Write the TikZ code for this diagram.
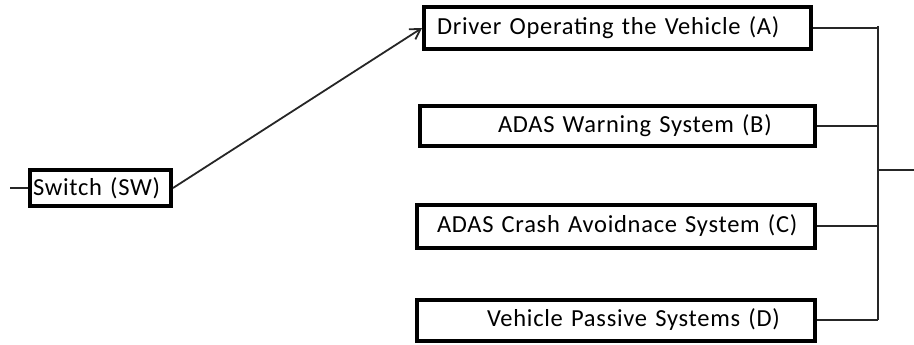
\documentclass[tikz,border=0pt]{standalone}
\usepackage{fontspec}
\setmainfont[LetterSpace=3,WordSpace=0.85]{Carlito}
\usetikzlibrary{arrows.meta}
\begin{document}
\begin{tikzpicture}[x=1pt,y=-1pt,
  box/.style={draw=black,line width=4pt,inner xsep=0pt,inner ysep=0pt,align=left,
    font=\fontsize{24.5}{28}\selectfont,anchor=center},
  wire/.style={draw=black!85,line width=1.8pt}]
\useasboundingbox (0,0) rectangle (914,345);
\node[box,minimum width=141,minimum height=36,text width=141] (sw) at (100.5,188) {\hspace*{3pt}Switch (SW)};
\node[box,minimum width=387,minimum height=42,text width=387] (A) at (617.5,28) {\hspace*{13pt}Driver Operating the Vehicle (A)};
\node[box,minimum width=395,minimum height=40,text width=395] (B) at (617.5,126) {\hspace*{78pt}ADAS Warning System (B)};
\node[box,minimum width=398,minimum height=43,text width=398] (C) at (616,226) {\hspace*{20pt}ADAS Crash Avoidnace System (C)};
\node[box,minimum width=398,minimum height=41,text width=398] (D) at (616,320) {\hspace*{70pt}Vehicle Passive Systems (D)};
\coordinate (in) at (10,188);
\coordinate (jt) at (878,26);
\coordinate (jb) at (878,320);
\coordinate (out) at (914,170);
\draw[wire] (in) -- (sw.west);
\draw[wire,-{Straight Barb[length=10pt,width=12pt]}] (sw.east) -- (A.west);
\draw[wire] (A.east) -- (A.east -| jt);
\draw[wire] (B.east) -- (B.east -| jt);
\draw[wire] (C.east) -- (C.east -| jt);
\draw[wire] (D.east) -- (D.east -| jt);
\draw[wire] (jt) -- (jb);
\draw[wire] (out -| jt) -- (out);
\end{tikzpicture}
\end{document}
